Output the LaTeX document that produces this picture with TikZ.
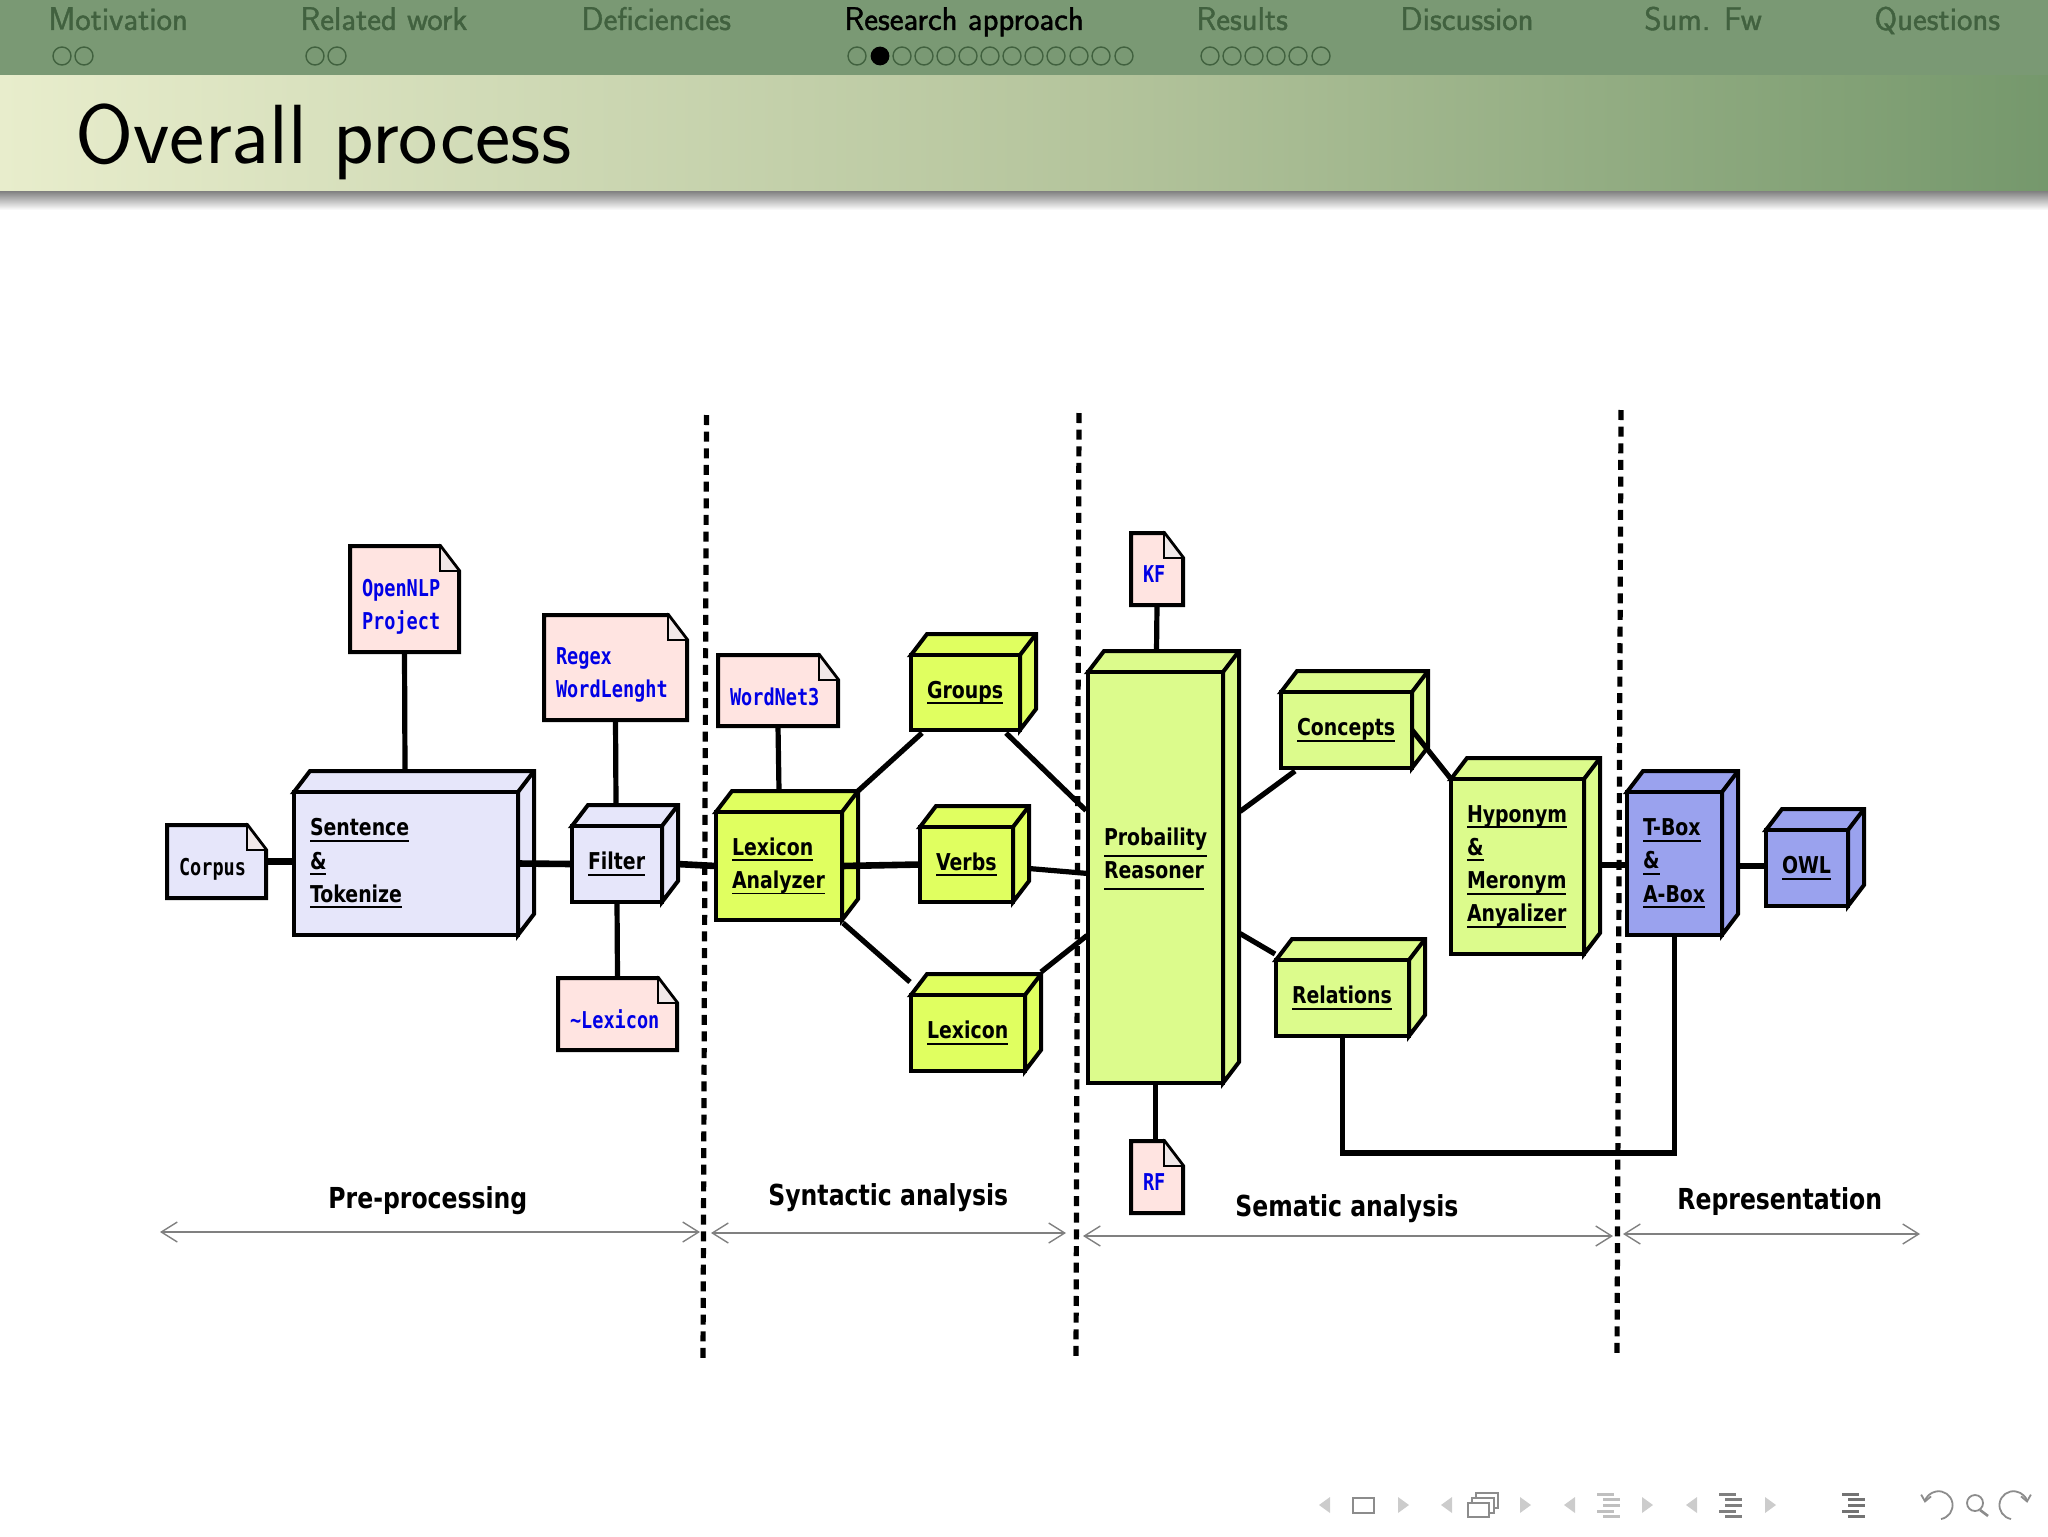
\documentclass[tikz,border=0pt]{standalone}
\usepackage{fontspec}
\usetikzlibrary{arrows.meta}
\newfontfamily\boxfont{DejaVu Sans}[FakeStretch=0.815]
\newfontfamily\notefont{DejaVu Sans Mono}[FakeStretch=0.80]
\newfontfamily\navfont{Latin Modern Sans}[FakeBold=1.2]
\definecolor{bandgreen}{HTML}{7A9974}
\definecolor{titlea}{HTML}{E8EDCC}
\definecolor{titleb}{HTML}{B4C49C}
\definecolor{titlec}{HTML}{75986C}
\definecolor{navtext}{HTML}{41613F}
\definecolor{lavbox}{HTML}{E6E6FA}
\definecolor{notepink}{HTML}{FFE4E1}
\definecolor{yelbox}{HTML}{E0FF60}
\definecolor{grnbox}{HTML}{DCFB8C}
\definecolor{blubox}{HTML}{9AA2EE}
\definecolor{notefold}{HTML}{F0E8E8}
\newsavebox{\ulbox}
\newcommand{\ulabel}[2][3pt]{\sbox{\ulbox}{#2}\leavevmode\rlap{\rule[-#1]{\wd\ulbox}{.95pt}}\usebox{\ulbox}}
\tikzset{
  edge3d/.style={draw=black,line width=2pt},
  boxtext/.style={outer sep=0pt,inner ysep=0pt,inner xsep=8pt,align=left,
    font=\boxfont\bfseries\fontsize{11.6}{16.6}\selectfont},
  notetext/.style={outer sep=0pt,inner ysep=0pt,inner xsep=6pt,align=left,
    font=\notefont\bfseries\fontsize{11.6}{16.6}\selectfont},
  link/.style={line width=2.6pt},
  linkb/.style={line width=3.3pt},
  sep/.style={line width=2.6pt,dash pattern=on 5pt off 3.33pt},
  span/.style={draw=black!50,line width=.7pt,{Straight Barb[length=8pt,width=10pt]}-{Straight Barb[length=8pt,width=10pt]}},
  phase/.style={anchor=base west,inner sep=0pt,font=\boxfont\bfseries\fontsize{14.45}{16}\selectfont},
  sect/.style={anchor=base west,inner sep=0pt,text=navtext,font=\navfont\fontsize{16.4}{17}\selectfont},
  navl/.style={fill=black!20},
  navd/.style={draw=black!45,line width=.9pt},
}
\begin{document}
\begin{tikzpicture}[x=.5pt,y=-.5pt]
    \useasboundingbox (0,0) rectangle (2048,1536);
    % head line and title
    \fill[bandgreen] (0,0) rectangle (2048,76);
    \shade[left color=titlea,right color=titleb] (0,76) rectangle (1100,191);
    \shade[left color=titleb,right color=titlec] (1100,76) rectangle (2048,191);
    \shade[top color=black!50,bottom color=white] (0,191) rectangle (2048,210);
    \foreach \n/\x/\y in {motiv/48/Motivation, related/300/Related work, defic/581/Deficiencies, results/1196/Results, discuss/1400/Discussion, sumfw/1644/Sum. Fw, quest/1874/Questions} {%
      \node[sect] at (\x,30) (\n) {\y};%
    };%
    \node[sect,text=black] at (844,30) (research) {Research approach};%
    \node[anchor=base west,inner sep=0pt,font=\sffamily\fontsize{42}{44}\selectfont] at (75,163) (title) {Overall process};%
    \foreach \x in {62,84,315,337,857,902,924,946,968,990,1012,1034,1056,1079,1101,1124,1210,1232,1254,1276,1298,1321} {%
      \draw[navtext,line width=.7pt] (\x,56) circle[radius=4.5pt];%
    };%
    \fill[black] (880,56) circle[radius=4.7pt];%
    % boxes
    \foreach \n/\xa/\xb/\ya/\yb/\c/\t in {
      sent/294/518/792/935/lavbox/{\ulabel{Sentence}\\\ulabel{\&}\\\ulabel{Tokenize}},
      filter/572/662/826/902/lavbox/{\ulabel{Filter}},
      lexan/716/842/812/920/yelbox/{\ulabel{Lexicon}\\\ulabel{Analyzer}},
      groups/911/1020/655/730/yelbox/{\ulabel{Groups}},
      verbs/920/1013/827/902/yelbox/{\ulabel{Verbs}},
      lexi/911/1025/995/1071/yelbox/{\ulabel{Lexicon}},
      prob/1088/1223/672/1083/grnbox/{\ulabel[6pt]{Probaility}\\\ulabel[6pt]{Reasoner}\\[8pt]\mbox{}},
      concepts/1281/1412/692/768/grnbox/{\ulabel{Concepts}},
      relat/1276/1409/960/1036/grnbox/{\ulabel{Relations}},
      hypo/1451/1584/779/954/grnbox/{\ulabel{Hyponym}\\\ulabel{\&}\\\ulabel{Meronym}\\\ulabel{Anyalizer}},
      tbox/1627/1722/792/935/blubox/{\ulabel{T-Box}\\\ulabel{\&}\\\ulabel{A-Box}},
      owl/1766/1848/830/906/blubox/{\ulabel{OWL}}} {%
      \pgfmathsetmacro\w{(\xb-\xa)/2}%
      \pgfmathsetmacro\h{(\yb-\ya)/2}%
      \draw[edge3d,fill=\c] (\xa,\ya) -- (\xa+16,\ya-21) -- (\xb+16,\ya-21) -- (\xb+16,\yb-21) -- (\xb,\yb) -- (\xb,\ya) -- cycle;%
      \draw[edge3d] (\xb,\ya) -- (\xb+16,\ya-21);%
      \node[boxtext,edge3d,fill=\c,minimum height=\h pt,text width=\w pt-16pt] at ({(\xa+\xb)/2},{(\ya+\yb)/2}) (\n) {\t};%
    };%
    % notes
    \foreach \n/\xa/\xb/\ya/\yb/\c/\r/\t in {
      corpus/167/266/825/898/lavbox/16/{\textcolor{black}{Corpus}},
      opennlp/350/459/546/652/notepink/16/{OpenNLP\\Project},
      regex/544/687/615/720/notepink/16/{Regex\\WordLenght},
      approx/558/677/978/1050/notepink/15/{\textasciitilde Lexicon},
      wordnet/718/838/655/726/notepink/15/{WordNet3},
      kf/1131/1183/533/605/notepink/13/{KF},
      rf/1131/1183/1141/1213/notepink/13/{RF}} {%
      \pgfmathsetmacro\w{(\xb-\xa)/2}%
      \pgfmathsetmacro\h{(\yb-\ya)/2}%
      \draw[edge3d,fill=\c] (\xa,\ya) -- (\xb-19,\ya) -- (\xb,\ya+25) -- (\xb,\yb) -- (\xa,\yb) -- cycle;%
      \draw[line width=.8pt,fill=notefold] (\xb-19,\ya) -- (\xb-19,\ya+25) -- (\xb,\ya+25) -- cycle;%
      \node[notetext,text=blue!90!black,minimum height=\h pt,text width=\w pt-12pt] at ({(\xa+\xb)/2},{(\ya+\yb)/2}) (\n) {\rule{0pt}{\r pt}\t};%
    };%
    % borders of the phases
    \foreach \n/\xa/\ya/\xb/\yb in {one/706.5/415/703/1359, two/1079/413/1076/1357, three/1621/410/1617/1354} {%
      \coordinate (\n a) at (\xa,\ya);%
      \coordinate (\n b) at (\xb,\yb);%
      \draw[sep] (\n a) -- (\n b);%
    };%
    % links
    \draw[linkb] (corpus.east) -- (corpus.east -| sent.west);%
    \draw[linkb] (sent.east) -- (filter.west);%
    \draw[linkb] ([shift={(15,0)}]filter.east) -- (lexan.west);%
    \draw[linkb] (lexan.east) -- (verbs.west);%
    \draw[linkb] ([shift={(16,-1.5)}]hypo.east) -- ([shift={(0,1.5)}]tbox.west);%
    \draw[linkb] ([shift={(16,2.5)}]tbox.east) -- ([shift={(0,-2)}]owl.west);%
    \draw[link] (opennlp.south) -- ([shift={(-1,-21)}]sent.north);%
    \draw[link] (regex.south) -- ([shift={(-1,-21)}]filter.north);%
    \draw[link] (filter.south) -- (approx.north);%
    \draw[link] (wordnet.south) -- ([shift={(0,-21)}]lexan.north);%
    \draw[link] (kf.south) -- ([shift={(1,-21)}]prob.north);%
    \draw[link] (prob.south) -- (prob.south |- rf.north);%
    \draw[link] ([shift={(16,-21)}]lexan.north east) -- ([shift={(11,3)}]groups.south west);%
    \draw[link] ([shift={(-14,3)}]groups.south east) -- ([shift={(-2,-67)}]prob.west);%
    \draw[link] ([shift={(1,3)}]lexan.south east) -- ([shift={(-1,-13)}]lexi.north west);%
    \draw[link] ([shift={(16,-23)}]lexi.north east) -- ([shift={(-1,58)}]prob.west);%
    \draw[link] ([shift={(16,4)}]verbs.east) -- ([shift={(0,-4)}]prob.west);%
    \draw[link] ([shift={(17,-66)}]prob.east) -- ([shift={(14,3)}]concepts.south west);%
    \draw[link] ([shift={(17,56)}]prob.east) -- ([shift={(-1,-6)}]relat.north west);%
    \draw[link] (concepts.east) -- (hypo.north west);%
    \draw[link] (relat.south) -- ++(0,117) -| (tbox.south);%
    % spans of the phases
    \foreach \n/\xa/\xb/\y/\lx/\ly/\t in {pre/160/700/1232/328/1208/Pre-processing, syn/711/1066/1233/768/1205/Syntactic analysis, sem/1083/1613/1236/1235/1216/Sematic analysis, rep/1623/1920/1234/1677/1209/Representation} {%
      \coordinate (\n a) at (\xa,\y);%
      \coordinate (\n b) at (\xb,\y);%
      \draw[span] (\n a) -- (\n b);%
      \node[phase] at (\lx,\ly) (\n) {\t};%
    };%
    % navigation symbols
    \foreach \x in {1319,1441,1564,1686} {%
      \fill[navl] (\x,1505) -- (\x+11,1497) -- (\x+11,1513) -- cycle;%
    };%
    \foreach \x in {1398,1520,1642,1765} {%
      \fill[navl] (\x,1497) -- (\x+11,1505) -- (\x,1513) -- cycle;%
    };%
    \draw[navd] (1353,1498) rectangle (1374,1513);%
    \draw[navd,fill=white] (1476,1493) rectangle (1498,1508);%
    \draw[navd,fill=white] (1472,1498) rectangle (1494,1513);%
    \draw[navd,fill=white] (1468,1503) rectangle (1489,1517);%
    \foreach \x/\l in {1597/.25, 1719/.5, 1842/.55} {%
      \foreach \y/\d in {1494/0, 1499/6, 1505/6, 1511/0, 1516/6} {%
        \fill[black,opacity=\l] (\x+\d,\y-1.5) rectangle (\x+\d+17,\y+1.5);%
      };%
    };%
    \draw[navd,-{Straight Barb[length=3pt,width=5pt]}] (1941,1519) arc[start angle=-80,end angle=170,radius=7pt];%
    \draw[navd] (1975,1503) circle[radius=4pt];%
    \draw[navd,line width=1.3pt] (1980,1510) -- (1988,1516);%
    \draw[navd,-{Straight Barb[length=3pt,width=5pt]}] (2011,1519) arc[start angle=260,end angle=10,radius=7pt];%
  \end{tikzpicture}
\end{document}
